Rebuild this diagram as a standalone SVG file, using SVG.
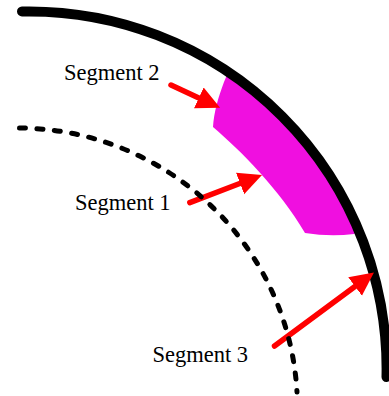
<svg xmlns="http://www.w3.org/2000/svg" width="389" height="396" viewBox="0 0 389 396">
<defs>
<style>
.lbl{font-family:"Liberation Serif","Times New Roman",serif;font-size:22.5px;fill:#000}
.shaft{stroke:#ff0000;stroke-width:5.5;stroke-linecap:round;fill:none}
.outer{stroke:#000;stroke-width:10;stroke-linecap:round;fill:none}
.dash{stroke:#000;stroke-width:5;stroke-linecap:round;stroke-dasharray:6 11.5;fill:none}
</style>
<marker id="ah" markerUnits="userSpaceOnUse" markerWidth="24" markerHeight="24" refX="9.5" refY="11.5" orient="auto">
<path d="M0,0 L23.5,11.5 L0,23 Z" fill="#ff0000"/>
</marker>
</defs>
<rect width="389" height="396" fill="#fff"/>
<g id="segment">
<path d="M229,70 L224,82 C218,98 214,112 213,127 C240,150 280,190 305,233 Q330,237 354,234 L361,228 A361,361 0 0 0 229,70 Z" fill="#f00fe0"/>
</g>
<g id="outer-arc">
<path class="outer" d="M22,11.5 A357.5,357.5 0 0 1 386.5,377"/>
</g>
<g id="connectors">
<line class="shaft" x1="171" y1="85" x2="207.4" y2="101.9" marker-end="url(#ah)"/>
<line class="shaft" x1="189.8" y1="202.6" x2="248.9" y2="180" marker-end="url(#ah)"/>
<line class="shaft" x1="274.5" y1="346" x2="362.7" y2="280.8" marker-end="url(#ah)"/>
</g>
<g id="dashed-arc">
<path class="dash" d="M19.5,128 A280,280 0 0 1 297,392"/>
</g>
<g id="label-seg2"><text class="lbl" x="64" y="80">Segment 2</text></g>
<g id="label-seg1"><text class="lbl" x="75" y="210">Segment 1</text></g>
<g id="label-seg3"><text class="lbl" x="152.5" y="362">Segment 3</text></g>
</svg>
